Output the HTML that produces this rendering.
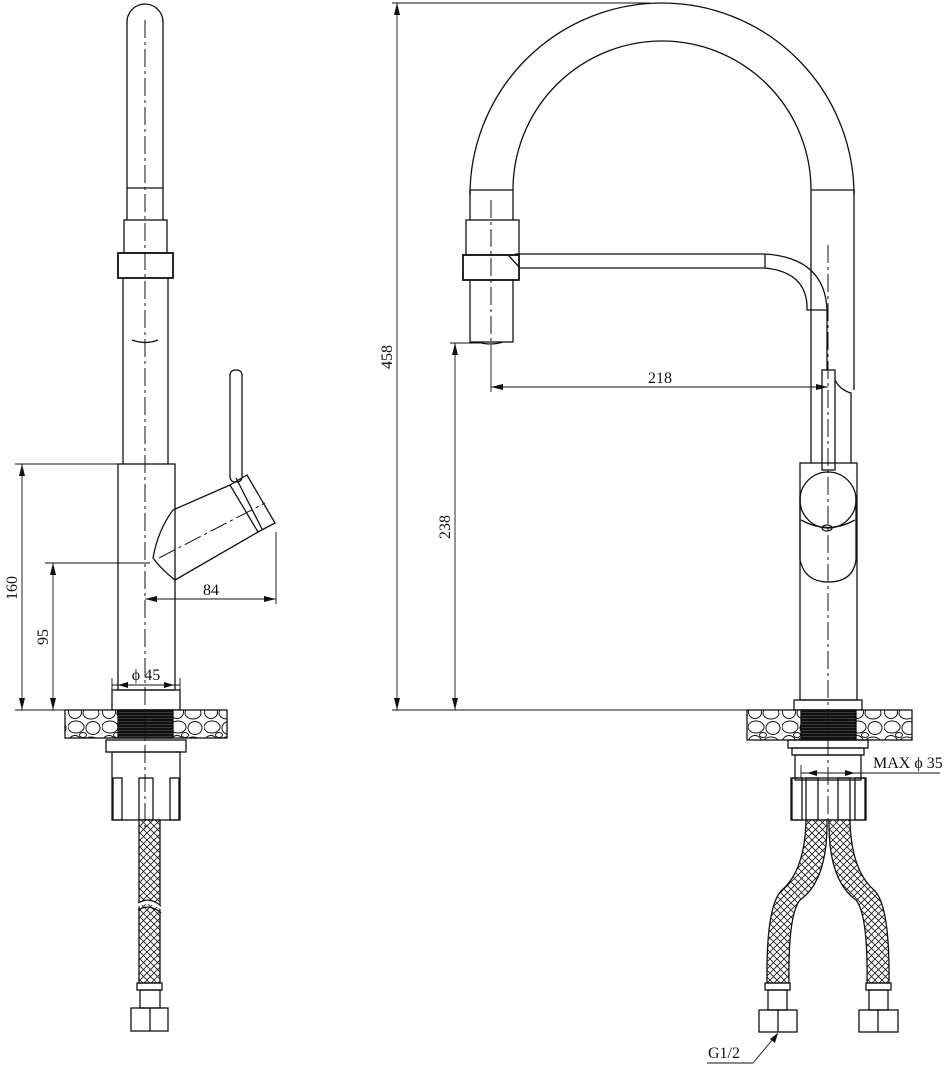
<!DOCTYPE html>
<html><head><meta charset="utf-8"><style>
html,body{margin:0;padding:0;background:#fff;}
svg{display:block;}
text{font-family:"Liberation Serif",serif;font-size:16px;fill:#111;}
</style></head><body>
<svg width="948" height="1072" viewBox="0 0 948 1072" xmlns="http://www.w3.org/2000/svg">
<defs>
<pattern id="mesh" width="7" height="7" patternUnits="userSpaceOnUse">
<rect width="7" height="7" fill="#fff"/>
<path d="M0 0L7 7M7 0L0 7" stroke="#222" stroke-width="0.9"/>
</pattern>
<pattern id="thread" width="4" height="3" patternUnits="userSpaceOnUse">
<rect width="4" height="3" fill="#111"/>
<line x1="0" y1="1.5" x2="4" y2="1.5" stroke="#555" stroke-width="0.6"/>
</pattern>
<pattern id="peb" width="34" height="30" patternUnits="userSpaceOnUse">
<rect width="34" height="30" fill="#fff"/>
<g fill="none" stroke="#111" stroke-width="1">
<ellipse cx="8" cy="7" rx="8" ry="6"/>
<ellipse cx="25" cy="8" rx="7" ry="6.5"/>
<ellipse cx="7" cy="22" rx="6.5" ry="6.5"/>
<ellipse cx="23" cy="23" rx="8" ry="6"/>
<ellipse cx="15" cy="15" rx="3.5" ry="2.5"/>
</g>
</pattern>
</defs>
<g fill="none" stroke="#111" stroke-width="1.3">
<!-- ================= LEFT VIEW ================= -->
<path d="M127 188 L127 22 A18 18 0 0 1 163 22 L163 188 Z"/>
<rect x="124" y="220" width="43" height="33"/>
<rect x="118" y="253" width="55" height="25" stroke-width="1.8"/>
<path d="M123 278 L123 464 M168 278 L168 464"/>
<path d="M132 340 Q145 345 158 340"/>
<path d="M127 188 L127 220 M163 188 L163 220"/>
<rect x="118" y="464" width="57" height="226"/>
<rect x="230" y="370" width="12" height="112" rx="5"/>
<path d="M173 510 L230 485 M175 580 L258 532 M173 510 Q158 530 153 558 Q162 570 175 580"/>
<path d="M230 485 L247 475 L275 523 L258 532 Z"/>
<line x1="236" y1="478" x2="262" y2="529"/>
<rect x="112" y="690" width="68" height="20"/>
<rect x="65" y="710" width="162" height="28" fill="url(#peb)"/>
<rect x="118" y="710" width="55" height="28" fill="url(#thread)"/>
<rect x="106" y="740" width="80" height="12"/>
<rect x="112" y="752" width="68" height="68"/>
<rect x="113" y="778" width="9" height="42"/>
<rect x="139" y="778" width="14" height="42"/>
<rect x="170" y="778" width="9" height="42"/>
<rect x="139" y="820" width="21" height="163" fill="url(#mesh)"/>
<path d="M137 905 Q150 898 162 908" stroke="#fff" stroke-width="4"/>
<path d="M138 903 Q150 896 161 906 M138 910 Q150 903 161 913"/>
<rect x="137" y="983" width="25" height="7"/>
<rect x="140" y="990" width="20" height="18"/>
<rect x="131" y="1008" width="37" height="23"/>
<line x1="150" y1="1008" x2="150" y2="1031"/>
<!-- ================= RIGHT VIEW ================= -->
<path d="M470 190 L470 195 A192 192 0 0 1 854 195 L854 190"/>
<path d="M513 190 A149 149 0 0 1 811 190"/>
<path d="M470 190 L470 220 M513 190 L513 220 M470 190 L513 190 M811 190 L854 190"/>
<rect x="466" y="220" width="53" height="35"/>
<rect x="463" y="255" width="56" height="25" stroke-width="1.8"/>
<rect x="470" y="280" width="43" height="62"/>
<path d="M478 342 Q490 346 503 342"/>
<path d="M515 254 L765 254 Q825 258 827 310 L827 370"/>
<path d="M520 268 L765 268 Q805 272 807 305 L807 310 L827 310"/>
<line x1="765" y1="254" x2="765" y2="268"/>
<line x1="509" y1="256" x2="520" y2="268"/>
<path d="M811 190 L811 463 M854 190 L854 390"/>
<path d="M835 380 Q840 390 851 393 L851 463"/>
<rect x="822" y="370" width="13" height="100"/>
<rect x="800" y="463" width="57" height="237"/>
<circle cx="828" cy="500" r="28"/>
<path d="M800 495 L800 560 Q805 582 828 582 Q853 582 856 560 L856 495"/>
<path d="M801 520 Q828 535 855 520"/>
<ellipse cx="827" cy="528" rx="5" ry="3"/>
<rect x="794" y="700" width="68" height="10"/>
<rect x="747" y="710" width="165" height="30" fill="url(#peb)"/>
<rect x="801" y="710" width="55" height="30" fill="url(#thread)"/>
<rect x="788" y="740" width="80" height="8"/>
<rect x="792" y="748" width="72" height="7"/>
<rect x="795" y="755" width="66" height="25"/>
<rect x="791" y="778" width="75" height="42"/>
<rect x="792" y="778" width="10" height="42"/>
<rect x="806" y="778" width="12" height="42"/>
<rect x="838" y="778" width="12" height="42"/>
<rect x="855" y="778" width="10" height="42"/>
<path d="M806 820 L827 820 Q828 880 800 900 Q788 915 789 983 L767 983 Q766 905 782 890 Q805 870 806 820 Z" fill="url(#mesh)"/>
<path d="M829 820 L850 820 Q851 870 874 890 Q890 905 889 983 L867 983 Q868 915 856 900 Q828 880 829 820 Z" fill="url(#mesh)"/>
<rect x="765" y="983" width="25" height="7"/>
<rect x="768" y="990" width="19" height="20"/>
<rect x="759" y="1010" width="38" height="22"/>
<line x1="778" y1="1010" x2="778" y2="1032"/>
<rect x="866" y="983" width="25" height="7"/>
<rect x="869" y="990" width="19" height="20"/>
<rect x="859" y="1010" width="39" height="22"/>
<line x1="878" y1="1010" x2="878" y2="1032"/>
</g>
<g stroke="#111" stroke-width="1" stroke-dasharray="18 4 3 4" fill="none">
<line x1="145" y1="20" x2="145" y2="830"/>
<line x1="491" y1="200" x2="491" y2="345"/>
<line x1="828" y1="245" x2="828" y2="820"/>
<line x1="159" y1="558" x2="265" y2="503"/>
</g>
<g stroke="#111" stroke-width="0.9" fill="none">
<line x1="15" y1="464" x2="118" y2="464"/>
<line x1="15" y1="710" x2="65" y2="710"/>
<line x1="45" y1="563" x2="150" y2="563"/>
<line x1="22" y1="464" x2="22" y2="710"/>
<line x1="53" y1="563" x2="53" y2="710"/>
<line x1="145" y1="599" x2="276" y2="599"/>
<line x1="276" y1="532" x2="276" y2="604"/>
<line x1="112" y1="685" x2="180" y2="685"/>
<line x1="112" y1="678" x2="112" y2="700"/>
<line x1="180" y1="678" x2="180" y2="700"/>
<line x1="392" y1="3" x2="650" y2="3"/>
<line x1="392" y1="710" x2="747" y2="710"/>
<line x1="397" y1="3" x2="397" y2="710"/>
<line x1="450" y1="343" x2="480" y2="343"/>
<line x1="455" y1="343" x2="455" y2="710"/>
<line x1="491" y1="345" x2="491" y2="392"/>
<line x1="491" y1="387" x2="828" y2="387"/>
<line x1="801" y1="765" x2="801" y2="778"/>
<line x1="861" y1="762" x2="861" y2="778"/>
<line x1="801" y1="773" x2="940" y2="773"/>
<line x1="707" y1="1063" x2="753" y2="1063"/>
<line x1="753" y1="1063" x2="778" y2="1033"/>
</g>
<g fill="#111">
<path d="M22 464 l-3 12 h6z M22 710 l-3 -12 h6z"/>
<path d="M53 563 l-3 12 h6z M53 710 l-3 -12 h6z"/>
<path d="M145 599 l12 -3 v6z M276 599 l-12 -3 v6z"/>
<path d="M118 685 l10 -3 v6z M174 685 l-10 -3 v6z"/>
<path d="M397 3 l-3 12 h6z M397 710 l-3 -12 h6z"/>
<path d="M455 343 l-3 12 h6z M455 710 l-3 -12 h6z"/>
<path d="M491 387 l12 -3 v6z M828 387 l-12 -3 v6z"/>
<path d="M807 773 l10 -3 v6z M855 773 l-10 -3 v6z"/>
<path d="M778 1033 l-3 10 l-5 -4z"/>
</g>
<text x="17" y="588" transform="rotate(-90 17 588)" text-anchor="middle">160</text>
<text x="48" y="637" transform="rotate(-90 48 637)" text-anchor="middle">95</text>
<text x="211" y="595" text-anchor="middle">84</text>
<text x="146" y="680" text-anchor="middle">ϕ 45</text>
<text x="392" y="357" transform="rotate(-90 392 357)" text-anchor="middle">458</text>
<text x="450" y="527" transform="rotate(-90 450 527)" text-anchor="middle">238</text>
<text x="660" y="383" text-anchor="middle">218</text>
<text x="873" y="768">MAX ϕ 35</text>
<text x="708" y="1058">G1/2</text>
</svg>
</body></html>
